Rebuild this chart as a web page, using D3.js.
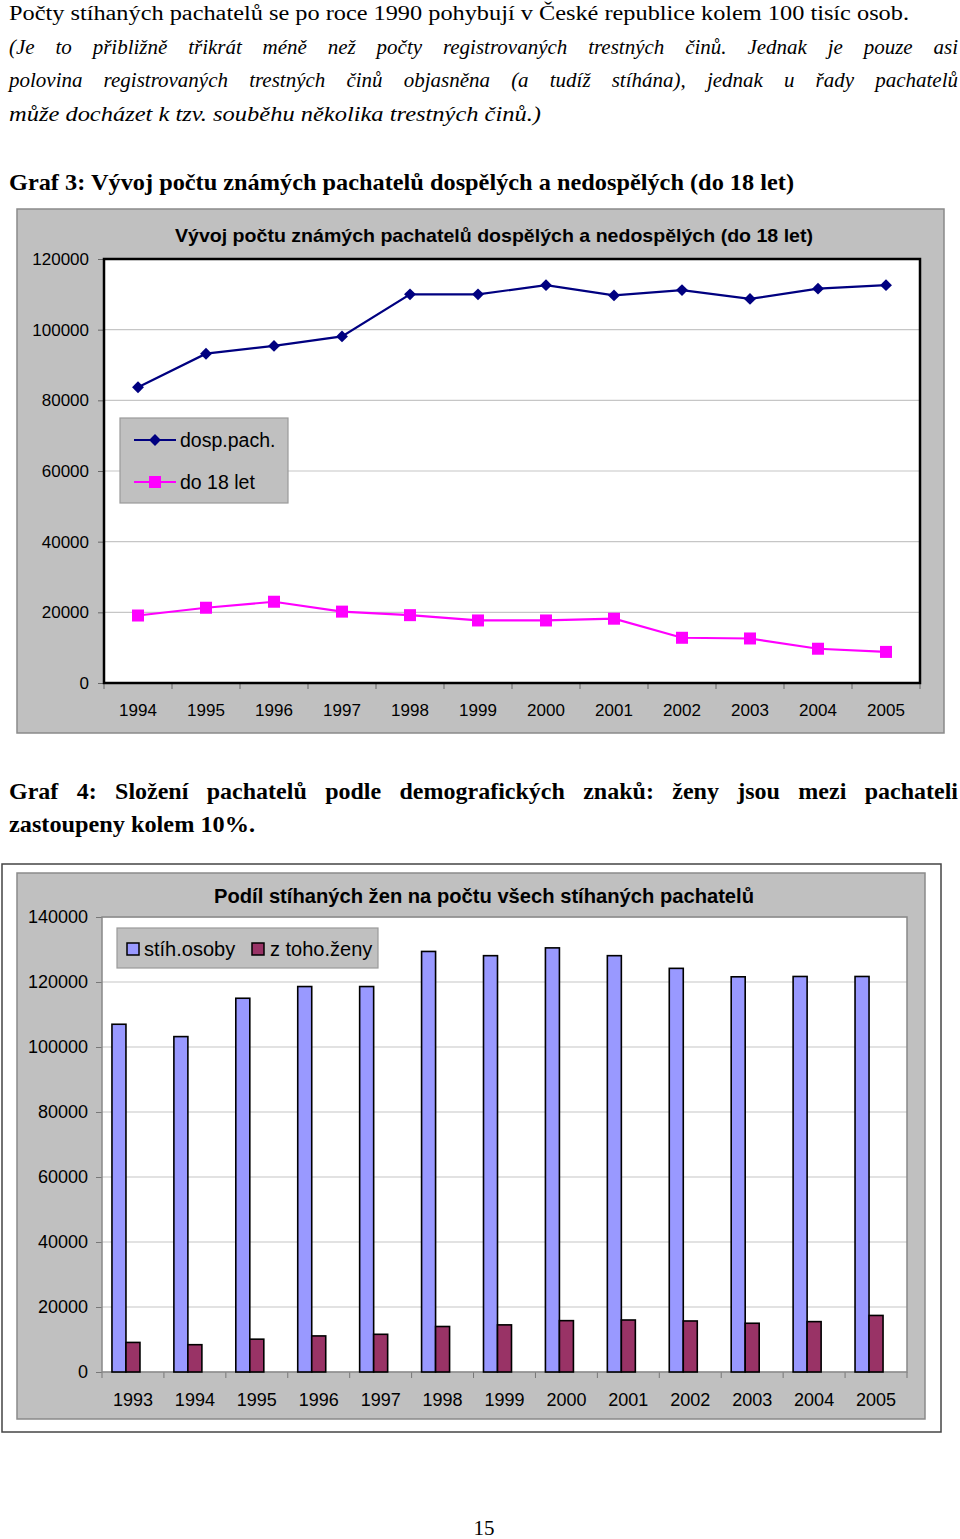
<!DOCTYPE html>
<html>
<head>
<meta charset="utf-8">
<script src="https://cdn.jsdelivr.net/npm/d3@7"></script>
<style>
  html, body { margin: 0; padding: 0; background: #ffffff; }
  svg { display: block; }
</style>
</head>
<body>
<svg id="page" width="960" height="1539"></svg>
<script>
// ---------------- DATA ----------------
const lineYears = ["1994","1995","1996","1997","1998","1999","2000","2001","2002","2003","2004","2005"];
const adultValues = [83700, 93200, 95400, 98100, 110000, 110000, 112600, 109700, 111200, 108700, 111600, 112600];
const juvenileValues = [19100, 21300, 23000, 20200, 19200, 17700, 17700, 18200, 12800, 12600, 9700, 8800];
const lineSeriesNames = ["dosp.pach.", "do 18 let"];
const lineTicks = [0, 20000, 40000, 60000, 80000, 100000, 120000];

const barYears = ["1993","1994","1995","1996","1997","1998","1999","2000","2001","2002","2003","2004","2005"];
const totalValues = [107000, 103200, 115000, 118600, 118600, 129400, 128100, 130500, 128100, 124200, 121600, 121700, 121700];
const womenValues = [9100, 8400, 10100, 11100, 11600, 14000, 14500, 15800, 16000, 15700, 15000, 15500, 17400];
const barSeriesNames = ["stíh.osoby", "z toho.ženy"];
const barTicks = [0, 20000, 40000, 60000, 80000, 100000, 120000, 140000];

const chart1Title = "Vývoj počtu známých pachatelů dospělých a nedospělých (do 18 let)";
const chart2Title = "Podíl stíhaných žen na počtu všech stíhaných pachatelů";

// ---------------- PAGE ----------------
const svg = d3.select("#page");
const SERIF = "'Liberation Serif','Times New Roman',serif";
const SANS = "'Liberation Sans',Arial,sans-serif";

function fitLine(str, x, y, width, opts) {
  const t = svg.append("text")
    .attr("x", x).attr("y", y)
    .attr("font-family", SERIF)
    .attr("font-size", opts.size)
    .attr("font-style", opts.italic ? "italic" : "normal")
    .attr("font-weight", opts.bold ? "bold" : "normal")
    .attr("fill", "#000")
    .text(str);
  if (width) t.attr("textLength", width).attr("lengthAdjust", "spacingAndGlyphs");
  return t;
}
function justifyLine(str, x, y, width, opts) {
  const words = str.split(" ");
  const g = svg.append("g");
  const nodes = words.map(w => g.append("text")
    .attr("y", y)
    .attr("font-family", SERIF)
    .attr("font-size", opts.size)
    .attr("font-style", opts.italic ? "italic" : "normal")
    .attr("font-weight", opts.bold ? "bold" : "normal")
    .attr("fill", "#000")
    .text(w));
  const widths = nodes.map(n => n.node().getComputedTextLength());
  const total = d3.sum(widths);
  const gap = (width - total) / (words.length - 1);
  let cx = x;
  nodes.forEach((n, i) => { n.attr("x", cx); cx += widths[i] + gap; });
}

fitLine("Počty stíhaných pachatelů se po roce 1990 pohybují v České republice kolem 100 tisíc osob.", 9, 20, 900, {size: 20});
justifyLine("(Je to přibližně třikrát méně než počty registrovaných trestných činů. Jednak je pouze asi", 9, 54, 949, {size: 21, italic: true});
justifyLine("polovina registrovaných trestných činů objasněna (a tudíž stíhána), jednak u řady pachatelů", 9, 87, 949, {size: 21, italic: true});
fitLine("může docházet k tzv. souběhu několika trestných činů.)", 9, 121, 532, {size: 20, italic: true});

fitLine("Graf 3: Vývoj počtu známých pachatelů dospělých a nedospělých (do 18 let)", 9, 190, 785, {size: 24, bold: true});

justifyLine("Graf 4: Složení pachatelů podle demografických znaků: ženy jsou mezi pachateli", 9, 799, 949, {size: 24, bold: true});
fitLine("zastoupeny kolem 10%.", 9, 832, 246, {size: 24, bold: true});

svg.append("text").attr("x", 484).attr("y", 1535).attr("text-anchor", "middle")
  .attr("font-family", SERIF).attr("font-size", 21).text("15");

// ---------------- CHART 1 (line) ----------------
(function() {
  const box = {x: 17, y: 209, w: 927, h: 524};
  const plot = {l: 104, r: 920, t: 259, b: 683};
  const g = svg.append("g");
  g.append("rect").attr("x", box.x).attr("y", box.y).attr("width", box.w).attr("height", box.h)
    .attr("fill", "#c0c0c0").attr("stroke", "#8a8a8a").attr("stroke-width", 1.5);
  g.append("rect").attr("x", plot.l).attr("y", plot.t).attr("width", plot.r - plot.l).attr("height", plot.b - plot.t)
    .attr("fill", "#ffffff");

  const x = d3.scaleBand().domain(lineYears).range([plot.l, plot.r]);
  const y = d3.scaleLinear().domain([0, 120000]).range([plot.b, plot.t]);

  g.append("g").selectAll("line").data(lineTicks).join("line")
    .attr("x1", plot.l).attr("x2", plot.r)
    .attr("y1", d => y(d)).attr("y2", d => y(d))
    .attr("stroke", "#c6c6c6").attr("stroke-width", 1.2);

  const yAxis = g.append("g").attr("transform", `translate(${plot.l},0)`)
    .call(d3.axisLeft(y).tickValues(lineTicks).tickSize(6).tickPadding(9).tickFormat(d3.format("d")));
  yAxis.select(".domain").remove();
  yAxis.selectAll(".tick line").attr("stroke", "#666");
  yAxis.selectAll(".tick text").attr("font-family", SANS).attr("font-size", 17).attr("fill", "#000");

  const xAxis = g.append("g").attr("transform", `translate(0,${plot.b})`)
    .call(d3.axisBottom(x).tickSize(0).tickPadding(21));
  xAxis.select(".domain").remove();
  xAxis.selectAll(".tick text").attr("font-family", SANS).attr("font-size", 17).attr("fill", "#000");
  const bounds = lineYears.map(d => x(d)).concat([x.range()[1]]);
  g.append("g").selectAll("line").data(bounds).join("line")
    .attr("x1", d => d).attr("x2", d => d).attr("y1", plot.b).attr("y2", plot.b + 6)
    .attr("stroke", "#666");

  g.append("rect").attr("x", plot.l).attr("y", plot.t).attr("width", plot.r - plot.l).attr("height", plot.b - plot.t)
    .attr("fill", "none").attr("stroke", "#000").attr("stroke-width", 2.5);

  g.append("text").attr("x", 494).attr("y", 242).attr("text-anchor", "middle")
    .attr("font-family", SANS).attr("font-weight", "bold").attr("font-size", 19)
    .attr("textLength", 638).attr("lengthAdjust", "spacingAndGlyphs")
    .attr("fill", "#000").text(chart1Title);

  const line = d3.line().x((d, i) => x(lineYears[i]) + x.bandwidth() / 2).y(d => y(d));
  const adultColor = "#000080", juvColor = "#ff00ff";

  g.append("path").datum(adultValues).attr("d", line).attr("fill", "none")
    .attr("stroke", adultColor).attr("stroke-width", 2.2);
  g.append("path").datum(juvenileValues).attr("d", line).attr("fill", "none")
    .attr("stroke", juvColor).attr("stroke-width", 2.2);

  const diamond = d3.symbol().type(d3.symbolDiamond2).size(90);
  g.append("g").selectAll("path").data(adultValues).join("path")
    .attr("d", diamond)
    .attr("transform", (d, i) => `translate(${x(lineYears[i]) + x.bandwidth() / 2},${y(d)})`)
    .attr("fill", adultColor);
  g.append("g").selectAll("rect").data(juvenileValues).join("rect")
    .attr("x", (d, i) => x(lineYears[i]) + x.bandwidth() / 2 - 6)
    .attr("y", d => y(d) - 6).attr("width", 12).attr("height", 12)
    .attr("fill", juvColor);

  const lg = g.append("g");
  lg.append("rect").attr("x", 120).attr("y", 418).attr("width", 168).attr("height", 85)
    .attr("fill", "#c0c0c0").attr("stroke", "#9a9a9a").attr("stroke-width", 1.2);
  const items = [
    {name: lineSeriesNames[0], color: adultColor, cy: 440, shape: "diamond"},
    {name: lineSeriesNames[1], color: juvColor, cy: 482, shape: "square"}
  ];
  items.forEach(it => {
    lg.append("line").attr("x1", 134).attr("x2", 176).attr("y1", it.cy).attr("y2", it.cy)
      .attr("stroke", it.color).attr("stroke-width", 2.2);
    if (it.shape === "diamond") {
      lg.append("path").attr("d", diamond).attr("transform", `translate(155,${it.cy})`).attr("fill", it.color);
    } else {
      lg.append("rect").attr("x", 149).attr("y", it.cy - 6).attr("width", 12).attr("height", 12).attr("fill", it.color);
    }
    lg.append("text").attr("x", 180).attr("y", it.cy + 7)
      .attr("font-family", SANS).attr("font-size", 19.5).attr("fill", "#000").text(it.name);
  });
})();

// ---------------- CHART 2 (bars) ----------------
(function() {
  const outer = {x: 2, y: 864, w: 939, h: 568};
  const box = {x: 17, y: 873, w: 908, h: 546};
  const plot = {l: 102, r: 907, t: 917, b: 1372};
  const g = svg.append("g");
  g.append("rect").attr("x", outer.x).attr("y", outer.y).attr("width", outer.w).attr("height", outer.h)
    .attr("fill", "#ffffff").attr("stroke", "#444").attr("stroke-width", 1.5);
  g.append("rect").attr("x", box.x).attr("y", box.y).attr("width", box.w).attr("height", box.h)
    .attr("fill", "#c0c0c0").attr("stroke", "#8a8a8a").attr("stroke-width", 1.5);
  g.append("rect").attr("x", plot.l).attr("y", plot.t).attr("width", plot.r - plot.l).attr("height", plot.b - plot.t)
    .attr("fill", "#ffffff");

  const x0 = d3.scaleBand().domain(barYears).range([plot.l, plot.r]);
  const x1 = d3.scaleBand().domain(barSeriesNames).range([-21, 7]);
  const y = d3.scaleLinear().domain([0, 140000]).range([plot.b, plot.t]);

  g.append("g").selectAll("line").data(barTicks).join("line")
    .attr("x1", plot.l).attr("x2", plot.r)
    .attr("y1", d => y(d)).attr("y2", d => y(d))
    .attr("stroke", "#c6c6c6").attr("stroke-width", 1.2);

  const yAxis = g.append("g").attr("transform", `translate(${plot.l},0)`)
    .call(d3.axisLeft(y).tickValues(barTicks).tickSize(6).tickPadding(8).tickFormat(d3.format("d")));
  yAxis.select(".domain").remove();
  yAxis.selectAll(".tick line").attr("stroke", "#777");
  yAxis.selectAll(".tick text").attr("font-family", SANS).attr("font-size", 18).attr("fill", "#000");

  const xAxis = g.append("g").attr("transform", `translate(0,${plot.b})`)
    .call(d3.axisBottom(x0).tickSize(0).tickPadding(21));
  xAxis.select(".domain").remove();
  xAxis.selectAll(".tick text").attr("font-family", SANS).attr("font-size", 18).attr("fill", "#000");
  const bounds = barYears.map(d => x0(d)).concat([x0.range()[1]]);
  g.append("g").selectAll("line").data(bounds).join("line")
    .attr("x1", d => d).attr("x2", d => d).attr("y1", plot.b).attr("y2", plot.b + 6)
    .attr("stroke", "#777");

  g.append("rect").attr("x", plot.l).attr("y", plot.t).attr("width", plot.r - plot.l).attr("height", plot.b - plot.t)
    .attr("fill", "none").attr("stroke", "#888").attr("stroke-width", 1.5);

  const colors = {"stíh.osoby": "#9999ff", "z toho.ženy": "#993366"};
  const rows = barYears.map((yr, i) => ({year: yr, vals: [
    {key: barSeriesNames[0], v: totalValues[i]},
    {key: barSeriesNames[1], v: womenValues[i]}
  ]}));
  g.append("g").selectAll("g").data(rows).join("g")
    .attr("transform", d => `translate(${x0(d.year) + x0.bandwidth() / 2},0)`)
    .selectAll("rect").data(d => d.vals).join("rect")
    .attr("x", d => x1(d.key)).attr("width", x1.bandwidth())
    .attr("y", d => y(d.v)).attr("height", d => y(0) - y(d.v))
    .attr("fill", d => colors[d.key]).attr("stroke", "#000").attr("stroke-width", 1.6);

  g.append("text").attr("x", 484).attr("y", 903).attr("text-anchor", "middle")
    .attr("font-family", SANS).attr("font-weight", "bold").attr("font-size", 20)
    .attr("textLength", 540).attr("lengthAdjust", "spacingAndGlyphs")
    .attr("fill", "#000").text(chart2Title);

  const lg = g.append("g");
  lg.append("rect").attr("x", 117).attr("y", 928).attr("width", 261).attr("height", 40)
    .attr("fill", "#c0c0c0").attr("stroke", "#9a9a9a").attr("stroke-width", 1.2);
  const items = [
    {name: barSeriesNames[0], sx: 127, tx: 144},
    {name: barSeriesNames[1], sx: 252, tx: 270}
  ];
  items.forEach(it => {
    lg.append("rect").attr("x", it.sx).attr("y", 943).attr("width", 12).attr("height", 12)
      .attr("fill", colors[it.name]).attr("stroke", "#000").attr("stroke-width", 1.5);
    lg.append("text").attr("x", it.tx).attr("y", 956)
      .attr("font-family", SANS).attr("font-size", 20).attr("fill", "#000").text(it.name);
  });
})();
</script>
</body>
</html>
